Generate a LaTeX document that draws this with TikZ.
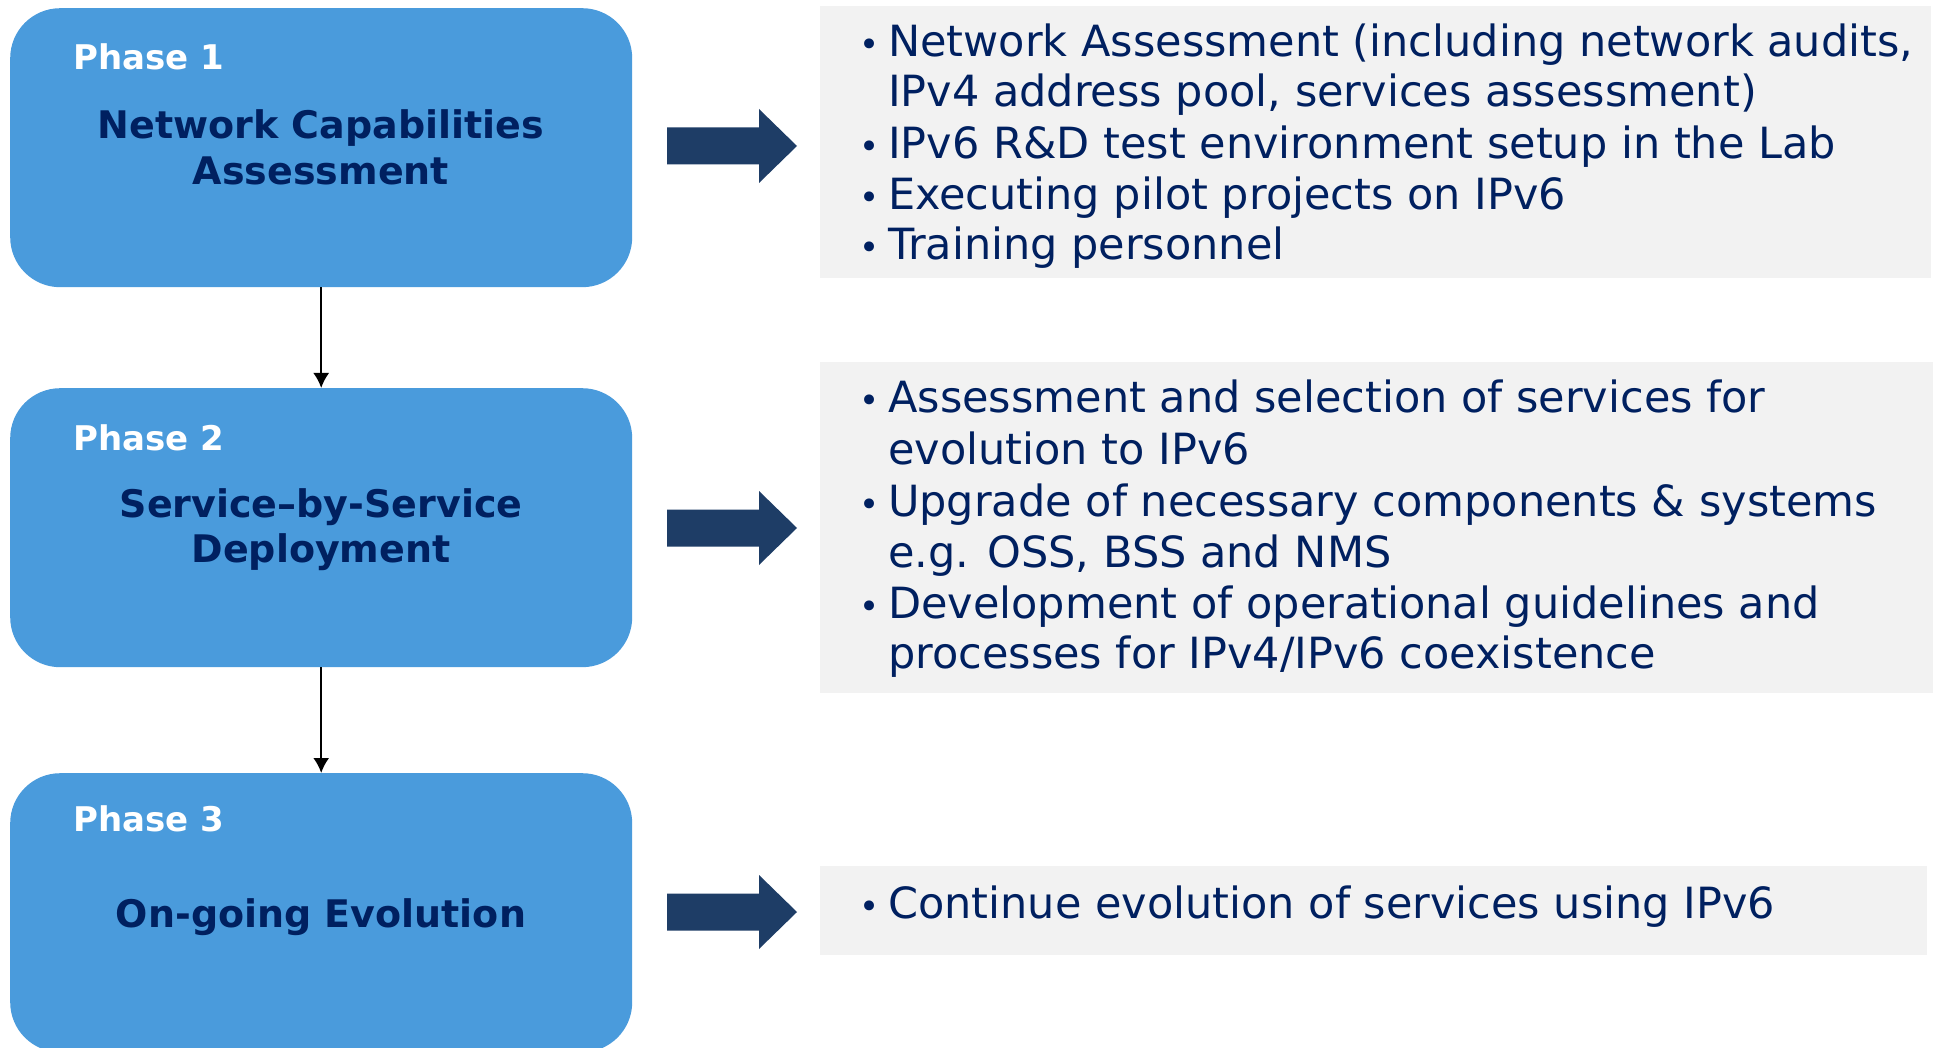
\documentclass[tikz,border=0pt]{standalone}
\usepackage{fontspec}
\setmainfont{DejaVu Sans}
\usetikzlibrary{arrows.meta}
\definecolor{phasefill}{HTML}{4A9BDC}
\definecolor{navy}{HTML}{002060}
\definecolor{arrowblue}{HTML}{1E3D66}
\definecolor{panelgray}{HTML}{F2F2F2}
\begin{document}
\begin{tikzpicture}[x=1pt,y=-1pt,
  phasebox/.style={draw=none, fill=phasefill, rounded corners=50pt, minimum width=622pt, minimum height=279pt, inner sep=0pt, anchor=north west},
  phaselabel/.style={text=white, font=\fontsize{34}{40}\selectfont\bfseries, anchor=base west, inner sep=0pt},
  phasetitle/.style={text=navy, font=\fontsize{38}{46}\selectfont\bfseries, anchor=base, inner sep=0pt},
  panel/.style={fill=panelgray, draw=none, inner sep=0pt, anchor=north west},
  itemtext/.style={text=navy, font=\fontsize{43}{51}\selectfont, anchor=base west, inner sep=0pt},
  bulletmark/.style={text=navy, font=\fontsize{34}{34}\selectfont, anchor=base, inner sep=0pt},
  flow/.style={draw=black, line width=2pt, -{Latex[length=15pt,width=16pt]}},
  bigarrow/.style={fill=arrowblue}
]
\useasboundingbox (0,0) rectangle (1933,1048);
\clip (0,0) rectangle (1933,1048);
\fill[white] (0,0) rectangle (1933,1048);

% phase boxes
\node[phasebox] (ph1) at (10,8) {};
\node[phasebox] (ph2) at (10,388) {};
\node[phasebox] (ph3) at (10,773) {};

\node[phaselabel] (ph1lab) at (73,70) {Phase 1};
\node[phasetitle] (ph1ta) at (321,139) {Network Capabilities};
\node[phasetitle] (ph1tb) at (321,185) {Assessment};

\node[phaselabel] (ph2lab) at (73,450) {Phase 2};
\node[phasetitle] (ph2ta) at (321,517) {Service–by-Service};
\node[phasetitle] (ph2tb) at (321,562) {Deployment};

\node[phaselabel] (ph3lab) at (73,831) {Phase 3};
\node[phasetitle] (ph3ta) at (321,927) {On-going Evolution};

\draw[flow] (ph1.south) -- (ph2.north);
\draw[flow] (ph2.south) -- (ph3.north);

% big arrows
\coordinate (a1) at (667,146);
\coordinate (a2) at (667,528);
\coordinate (a3) at (667,912);
\foreach \c in {a1,a2,a3}{
  \fill[bigarrow] (\c) ++(0,-18.5) -- ++(92,0) -- ++(0,-18.5) -- ++(38,37) -- ++(-38,37) -- ++(0,-18.5) -- ++(-92,0) -- cycle;
}

% panels
\node[panel, minimum width=1111pt, minimum height=272pt] (p1) at (820,6) {};
\node[panel, minimum width=1113pt, minimum height=331pt] (p2) at (820,362) {};
\node[panel, minimum width=1107pt, minimum height=89pt] (p3) at (820,866) {};

% panel 1 text
\node[bulletmark] (b1a) at (870,57) {•};
\node[itemtext] (t1a) at (888,57) {Network Assessment (including network audits,};
\node[itemtext] (t1b) at (888,107) {IPv4 address pool, services assessment)};
\node[bulletmark] (b1c) at (870,159) {•};
\node[itemtext] (t1c) at (888,159) {IPv6 R\&D test environment setup in the Lab};
\node[bulletmark] (b1d) at (870,210) {•};
\node[itemtext] (t1d) at (888,210) {Executing pilot projects on IPv6};
\node[bulletmark] (b1e) at (870,260) {•};
\node[itemtext] (t1e) at (888,260) {Training personnel};

% panel 2 text
\node[bulletmark] (b2a) at (870,413) {•};
\node[itemtext] (t2a) at (888,413) {Assessment and selection of services for};
\node[itemtext] (t2b) at (888,464) {evolution to IPv6};
\node[bulletmark] (b2c) at (870,516) {•};
\node[itemtext] (t2c) at (888,516) {Upgrade of necessary components \& systems};
\node[itemtext] (t2d) at (888,567) {e.g. OSS, BSS and NMS};
\node[bulletmark] (b2e) at (870,618) {•};
\node[itemtext] (t2e) at (888,618) {Development of operational guidelines and};
\node[itemtext] (t2f) at (888,668) {processes for IPv4/IPv6 coexistence};

% panel 3 text
\node[bulletmark] (b3a) at (870,918) {•};
\node[itemtext] (t3a) at (888,918) {Continue evolution of services using IPv6};
\end{tikzpicture}
\end{document}
